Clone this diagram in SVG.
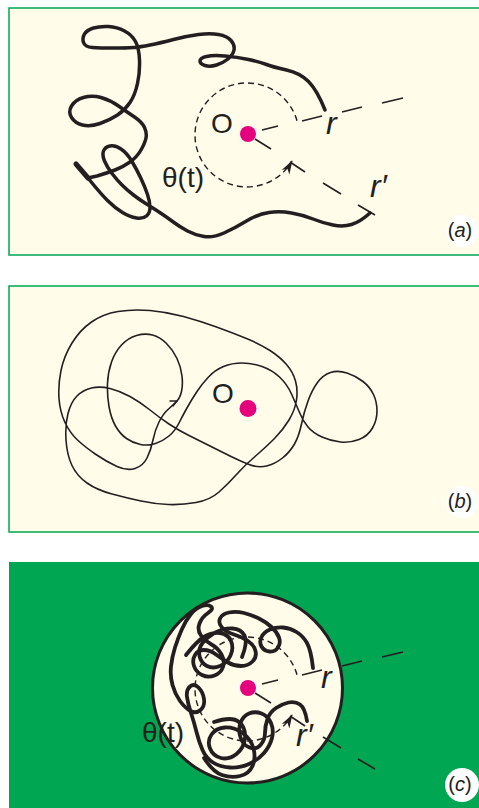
<svg xmlns="http://www.w3.org/2000/svg" width="479" height="808" viewBox="0 0 479 808">
<style>
.panel{fill:#FFFCEA;stroke:#00A651;stroke-width:1.5}
.wire{fill:none;stroke:#231F20;stroke-linecap:round;stroke-linejoin:round}
.thick{stroke-width:3.5}
.thickc{stroke-width:3.8}
.thin{stroke-width:1.6}
.dash{fill:none;stroke:#231F20;stroke-width:1.4;stroke-dasharray:6 4}
.seg{stroke:#231F20;stroke-width:1.6;fill:none}
.dot{fill:#E5007D}
.lbl{font-family:"Liberation Sans",Arial,sans-serif;fill:#231F20;font-size:28px}
.it{font-style:italic;font-size:32px}
.tag{font-family:"Liberation Sans",Arial,sans-serif;fill:#231F20;font-size:20px;text-anchor:middle}
.badge{fill:#FFFFFF}
</style>
<defs>
<marker id="arr" viewBox="0 0 14 9" refX="13" refY="4.5" markerWidth="14" markerHeight="9" markerUnits="userSpaceOnUse" orient="auto">
<path d="M0,0 L14,4.5 L0,9 L4,4.5 Z" fill="#231F20"/>
</marker>
</defs>
<rect width="479" height="808" fill="#FFFFFF"/>

<g id="panel-a">
<rect class="panel" x="9" y="8" width="480" height="247"/>
<circle class="badge" cx="462" cy="231" r="16"/>
<text class="tag" x="460" y="237">(<tspan font-style="italic">a</tspan>)</text>
<path class="dash" d="M297,120.7 A52,52 0 1 0 292,161" marker-end="url(#arr)"/>
<g id="a-r-line">
<line class="seg" x1="262" y1="130" x2="278" y2="126"/>
<line class="seg" x1="302" y1="121" x2="322" y2="116"/>
<line class="seg" x1="342" y1="112" x2="362" y2="107"/>
<line class="seg" x1="382" y1="103" x2="403" y2="98"/>
</g>
<g id="a-rp-line">
<line class="seg" x1="255" y1="139" x2="271" y2="149"/>
<line class="seg" x1="290" y1="162" x2="305" y2="172"/>
<line class="seg" x1="323" y1="183" x2="341" y2="194"/>
<line class="seg" x1="358" y1="205" x2="375" y2="215"/>
</g>
<g id="a-wire">
<path class="wire thick" d="M325,110 Q317,90 308.5,81.5 Q300,73 286.5,70 Q273,67 266.5,64.5 Q260,62 248.5,59.5 Q237,57 225,56 Q213,55 206.5,56.5 Q200,58 200,61 Q200,64 205,65.5 Q210,67 216.5,65 Q223,63 228,59 Q233,55 234,50 Q235,45 231,40.5 Q227,36 218.5,34.5 Q210,33 198.5,34.5 Q187,36 173.5,39.5 Q160,43 150,45 Q140,47 133.5,47.5 Q127,48 113.5,48 Q100,48 92.5,47.5 Q85,47 83.5,42.5 Q82,38 84.5,34 Q87,30 93.5,28 Q100,26 108.5,26.5 Q117,27 124.5,31 Q132,35 135.5,41.5 Q139,48 139.5,60 Q140,72 137.5,83.5 Q135,95 130,102.5 Q125,110 117.5,115 Q110,120 100,123.5 Q90,127 82.5,125 Q75,123 71.5,117.5 Q68,112 71.5,106 Q75,100 83.5,97.5 Q92,95 101,97.5 Q110,100 118.5,106 Q127,112 134.5,117 Q142,122 144.5,127.5 Q147,133 146,138 Q145,143 141,150 Q137,157 130,162 Q123,167 115,170 Q107,173 97,176 L88,178"/>
<path class="wire thick" d="M88,178 Q100,193 107.5,200.5 Q115,208 122.5,212.5 Q130,217 136.5,218 Q143,219 146.5,216 Q150,213 150,207.5 Q150,202 147.5,194.5 Q145,187 141,178.5 Q137,170 132,161.5 Q127,153 121,149 Q115,145 110,146 Q105,147 103.5,151 Q102,155 104.5,161 Q107,167 112,173.5 Q117,180 122,185 Q127,190 133.5,195 Q140,200 146.5,204 Q153,208 160.5,213 Q168,218 174,222.5 Q180,227 187.5,231 Q195,235 204,236.5 Q213,238 224,233 Q235,228 246.5,221 Q258,214 269,212.5 Q280,211 291.5,213 Q303,215 313,219 Q323,223 333,225 Q343,227 351.5,224.5 Q360,222 370,213"/>
<line class="wire" stroke-width="5" x1="76" y1="164" x2="88" y2="178"/>
</g>
<circle class="dot" cx="248" cy="134" r="8"/>
<text class="lbl" x="211" y="133">O</text>
<text class="lbl" x="162" y="187">θ(t)</text>
<text class="lbl it" x="326" y="134">r</text>
<text class="lbl it" x="370" y="197">r′</text>
</g>

<g id="panel-b">
<rect class="panel" x="9" y="286" width="480" height="246"/>
<circle class="badge" cx="462" cy="502" r="16"/>
<text class="tag" x="460" y="508">(<tspan font-style="italic">b</tspan>)</text>
<path id="b-wire" class="wire thin" d="M168,409.5 Q173,405 176.5,401.5 Q180,398 181.5,391.5 Q183,385 182,376 Q181,367 177,358.5 Q173,350 166.5,343.5 Q160,337 152.5,335 Q145,333 136.5,335.5 Q128,338 121.5,345 Q115,352 111.5,362 Q108,372 107.5,383.5 Q107,395 109,406.5 Q111,418 115.5,426 Q120,434 126.5,438.5 Q133,443 140.5,444.5 Q148,446 155.5,443.5 Q163,441 169,436 Q175,431 179,423 Q183,415 187.5,407 Q192,399 197,391.5 Q202,384 208.5,377 Q215,370 223.5,366.5 Q232,363 242,363 Q252,363 262,366.5 Q272,370 279.5,377 Q287,384 291.5,394 Q296,404 299.5,412.5 Q303,421 308,427 Q313,433 322,437 Q331,441 340.5,442 Q350,443 359,439.5 Q368,436 372.5,428 Q377,420 377,411 Q377,402 373.5,394.5 Q370,387 363,381.5 Q356,376 347,373 Q338,370 330.5,372.5 Q323,375 317.5,382.5 Q312,390 308,401 Q304,412 301.5,424 Q299,436 294.5,444 Q290,452 282.5,458 Q275,464 266.5,466 Q258,468 249,464.5 Q240,461 230,456 Q220,451 210,446 Q200,441 189,435.5 Q178,430 169,424 Q160,418 150,410 Q140,402 130,396.5 Q120,391 110,388.5 Q100,386 91.5,388 Q83,390 77,396 Q71,402 68,413.5 Q65,425 66,440 Q67,455 72,465.5 Q77,476 87,483 Q97,490 112,494 Q127,498 141,501 Q155,504 168.5,504.5 Q182,505 196,502.5 Q210,500 219,492 Q228,484 236.5,474.5 Q245,465 255,456.5 Q265,448 274,439 Q283,430 289,420 Q295,410 296.5,400 Q298,390 295.5,381 Q293,372 286.5,364.5 Q280,357 270,350.5 Q260,344 246.5,338.5 Q233,333 216.5,327 Q200,321 183.5,316.5 Q167,312 150,310.5 Q133,309 118,311.5 Q103,314 91.5,322 Q80,330 72,343 Q64,356 61,370.5 Q58,385 59,398.5 Q60,412 65,422.5 Q70,433 77.5,440 Q85,447 96,454.5 Q107,462 117,466.5 Q127,471 135,468.5 Q143,466 147,458 Q151,450 153,440 Q155,430 159,422 Q163,414 168,409.5 Z"/>
<path class="wire" stroke-width="1.4" d="M170,401 L177,401 L173,406"/>
<circle class="dot" cx="248" cy="408.5" r="8.5"/>
<text class="lbl" x="212" y="403">O</text>
</g>

<g id="panel-c">
<rect x="9" y="562" width="480" height="250" fill="#00A651"/>
<circle class="badge" cx="462" cy="785" r="17"/>
<text class="tag" x="460" y="791">(<tspan font-style="italic">c</tspan>)</text>
<circle cx="247.5" cy="688" r="95" fill="#FFFCEA" stroke="#231F20" stroke-width="3"/>
<path class="dash" d="M297,674.7 A52,52 0 1 0 292,715" marker-end="url(#arr)"/>
<g id="c-r-line">
<line class="seg" x1="262" y1="684" x2="278" y2="680"/>
<line class="seg" x1="302" y1="675" x2="322" y2="670"/>
<line class="seg" x1="342" y1="666" x2="362" y2="661"/>
<line class="seg" x1="382" y1="657" x2="403" y2="652"/>
</g>
<g id="c-rp-line">
<line class="seg" x1="255" y1="693" x2="271" y2="703"/>
<line class="seg" x1="290" y1="716" x2="305" y2="726"/>
<line class="seg" x1="323" y1="737" x2="341" y2="748"/>
<line class="seg" x1="358" y1="759" x2="375" y2="769"/>
</g>
<g id="c-wire">
<path class="wire thickc" d="M313,668 Q311,650 307,643 Q303,636 296.5,632 Q290,628 283,627.5 Q276,627 270,629.5 Q264,632 261.5,637 Q259,642 261.5,646.5 Q264,651 269.5,651.5 Q275,652 278,647.5 Q281,643 279,637.5 Q277,632 271.5,627 Q266,622 259,618.5 Q252,615 244,613 Q236,611 229,612.5 Q222,614 220,618.5 Q218,623 222,627.5 Q226,632 234,634.5 Q242,637 248,641 Q254,645 255.5,651 Q257,657 252.5,661.5 Q248,666 241,666 Q234,666 228,662.5 Q222,659 216,654.5 Q210,650 204,650 Q198,650 195,655 Q192,660 194,666 Q196,672 202,675 Q208,678 214.5,675.5 Q221,673 223,667 Q225,661 221.5,654.5 Q218,648 211.5,644.5 Q205,641 201,635.5 Q197,630 199.5,623.5 Q202,617 208,613 Q214,609 211,606.5 Q208,604 202,606 Q196,608 191,614 Q186,620 182,629 Q178,638 175,647.5 Q172,657 171,666.5 Q170,676 172.5,685 Q175,694 180,701 Q185,708 190.5,711 Q196,714 200.5,710 Q205,706 204,699 Q203,692 198.5,687.5 Q194,683 190,686.5 Q186,690 187,697 Q188,704 191,713 Q194,722 196.5,732 Q199,742 202.5,750 Q206,758 213,762.5 Q220,767 230,767.5 Q240,768 249,764 Q258,760 264,753 Q270,746 272,738 Q274,730 271,723 Q268,716 261.5,713.5 Q255,711 249,713.5 Q243,716 240.5,723 Q238,730 240.5,737.5 Q243,745 249.5,747.5 Q256,750 260.5,745 Q265,740 265,733 Q265,726 267.5,719 Q270,712 276,708 Q282,704 288.5,702.5 Q295,701 300,704.5 Q305,708 307,721"/>
<path class="wire thickc" d="M186,655 Q197,641 204.5,636.5 Q212,632 220,633 Q228,634 231,641 Q234,648 230.5,655.5 Q227,663 220,666 Q213,669 207,666 Q201,663 199.5,656 Q198,649 202.5,643 Q207,637 215.5,632.5 Q224,628 232.5,628.5 Q241,629 244.5,635.5 Q248,642 242,657"/>
<path class="wire thickc" d="M214,722 Q232,716 239,722 Q246,728 245,738 Q244,748 236.5,754 Q229,760 221,758 Q213,756 210,748.5 Q207,741 211.5,734.5 Q216,728 225,727.5 Q234,727 242.5,733 Q251,739 253.5,748.5 Q256,758 252.5,766 Q249,774 240,776 Q231,778 222,775 Q213,772 204,758"/>
</g>
<circle class="dot" cx="248" cy="688" r="8"/>
<text class="lbl" x="142" y="742">θ(t)</text>
<text class="lbl it" x="321" y="688">r</text>
<text class="lbl it" x="296" y="746">r′</text>
</g>
</svg>
